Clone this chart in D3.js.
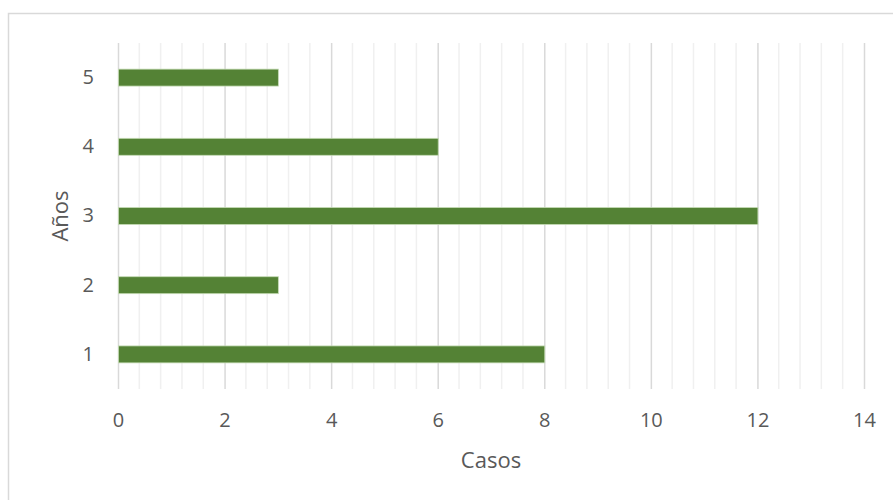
<!DOCTYPE html>
<html>
<head>
<meta charset="utf-8">
<script src="https://cdn.jsdelivr.net/npm/d3@7"></script>
<style>
  html, body { margin: 0; padding: 0; background: #fff; }
  svg { display: block; font-family: "Open Sans", "Noto Sans", sans-serif; }
</style>
</head>
<body>
<svg id="chart" width="893" height="500"></svg>
<script>
// Cases per year
const years = ["1", "2", "3", "4", "5"];
const casos = [8, 3, 12, 6, 3];
const xTicks = [0, 2, 4, 6, 8, 10, 12, 14];
const xTitle = "Casos";
const yTitle = "Años";

const svg = d3.select("#chart");
const W = 893, H = 500;
const plot = { left: 118, right: 864, top: 43, bottom: 389 };

// outer chart frame
svg.append("rect")
  .attr("x", 8.5).attr("y", 13.5)
  .attr("width", W + 10).attr("height", H + 10)
  .attr("fill", "none").attr("stroke", "#d9d9d9").attr("stroke-width", 1.5);

const x = d3.scaleLinear().domain([0, 14]).range([plot.left, plot.right]);
const y = d3.scaleBand().domain(years.slice().reverse())
  .range([plot.top, plot.bottom]).paddingInner(0.755).paddingOuter(0.3775);

// minor gridlines every 0.4
const minor = d3.range(0, 14.0001, 0.4).filter(v => Math.abs(v / 2 - Math.round(v / 2)) > 1e-6);
svg.append("g").selectAll("line").data(minor).join("line")
  .attr("x1", d => x(d)).attr("x2", d => x(d))
  .attr("y1", plot.top).attr("y2", plot.bottom)
  .attr("stroke", "#f0f0f0").attr("stroke-width", 1.5);

// major gridlines via axis
const xAxis = d3.axisBottom(x).tickValues(xTicks)
  .tickSize(-(plot.bottom - plot.top)).tickPadding(0);
const gx = svg.append("g").attr("transform", `translate(0,${plot.bottom})`).call(xAxis);
gx.select(".domain").remove();
gx.selectAll(".tick line").attr("stroke", "#d9d9d9").attr("stroke-width", 1.5);
gx.selectAll(".tick text").attr("fill", "#595959").attr("font-size", 20)
  .attr("dy", null).attr("y", 38)
  .attr("font-family", "'Open Sans', sans-serif");

const yAxis = d3.axisLeft(y).tickSize(0).tickPadding(24);
const gy = svg.append("g").attr("transform", `translate(${plot.left},0)`).call(yAxis);
gy.select(".domain").remove();
gy.selectAll(".tick text").attr("fill", "#595959").attr("font-size", 20)
  .attr("font-family", "'Open Sans', sans-serif");

// bars
svg.append("g").selectAll("rect").data(years.map((yr, i) => ({ yr, v: casos[i] })))
  .join("rect")
  .attr("x", x(0) + 0.5)
  .attr("y", d => y(d.yr))
  .attr("width", d => x(d.v) - x(0))
  .attr("height", y.bandwidth())
  .attr("fill", "#548235")
  .attr("stroke", "#c5dbb5").attr("stroke-width", 0.8);

// axis titles
svg.append("text")
  .attr("x", (plot.left + plot.right) / 2).attr("y", 468)
  .attr("text-anchor", "middle").attr("fill", "#595959").attr("font-size", 22)
  .text(xTitle);
svg.append("text")
  .attr("transform", `translate(68,${(plot.top + plot.bottom) / 2}) rotate(-90)`)
  .attr("text-anchor", "middle").attr("fill", "#595959").attr("font-size", 22)
  .text(yTitle);
</script>
</body>
</html>
